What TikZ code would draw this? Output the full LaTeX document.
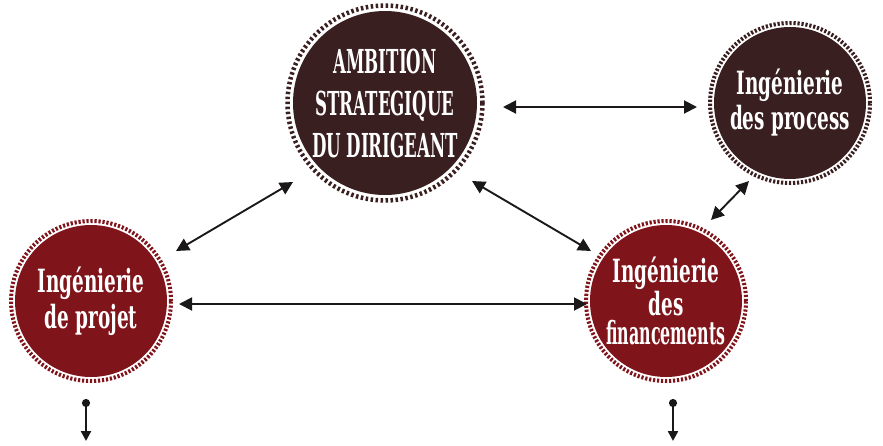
\documentclass[tikz,border=0pt]{standalone}
\usepackage{fontspec}
\usetikzlibrary{arrows.meta}
\newfontfamily\decoA[FakeStretch=0.56]{DejaVu Serif Condensed Bold}
\newfontfamily\decoB[FakeStretch=0.64]{DejaVu Serif Condensed Bold}
\newfontfamily\decoC[FakeStretch=0.55]{DejaVu Serif Condensed Bold}
\definecolor{brun}{RGB}{58,31,32}
\definecolor{bordeaux}{RGB}{127,20,27}
\definecolor{trait}{RGB}{26,24,24}
\begin{document}
\begin{tikzpicture}[x=1pt,y=-1pt,
  bulle/.style={circle,fill=#1,inner sep=0pt,text=white,align=center},
  anneau/.style={draw=#1,line width=4pt,dash pattern=on 2.2pt off 1.8pt},
  grandanneau/.style={draw=#1,line width=4.5pt,dash pattern=on 2.5pt off 2.5pt},
  bifleche/.style={draw=trait,line width=1.9pt,{Triangle[length=13pt,width=13pt]}-{Triangle[length=13pt,width=13pt]}},
  sortie/.style={draw=trait,line width=2.3pt,{Circle[length=8pt]}-{Triangle[length=10pt,width=10pt]}}]
\useasboundingbox (0,0) rectangle (883,445);
% circles
\node[bulle=brun,minimum size=184pt,font={\decoA\fontsize{33}{42}\selectfont}] (amb) at (385,103) {AMBITION\\STRATEGIQUE\\DU DIRIGEANT};
\draw[grandanneau=brun] (amb.center) circle[radius=97.5pt];
\node[bulle=brun,minimum size=152pt,font={\decoB\fontsize{32}{35}\selectfont}] (proc) at (790,103) {Ingénierie\\des process};
\draw[anneau=brun] (proc.center) circle[radius=80pt];
\node[bulle=bordeaux,minimum size=152pt,font={\decoB\fontsize{32}{36}\selectfont}] (proj) at (91,301) {Ingénierie\\de projet};
\draw[anneau=bordeaux] (proj.center) circle[radius=80pt];
\node[bulle=bordeaux,minimum size=152pt,font={\decoB\fontsize{32}{29}\selectfont}] (fin) at (666,301) {Ingénierie\\des\\{\decoC financements}};
\draw[anneau=bordeaux] (fin.center) circle[radius=80pt];
% connector end points
\coordinate (a1) at (503,107); \coordinate (b1) at (697,107);
\coordinate (a2) at (293,182); \coordinate (b2) at (176,251);
\coordinate (a3) at (472,181); \coordinate (b3) at (591,251);
\coordinate (a4) at (749,181); \coordinate (b4) at (711,220);
\coordinate (a5) at (179,304); \coordinate (b5) at (587,304);
\coordinate (p1) at (86,399); \coordinate (q1) at (86,441);
\coordinate (p2) at (673,399); \coordinate (q2) at (673,441);
\draw[bifleche] (a1) -- (b1);
\draw[bifleche] (a2) -- (b2);
\draw[bifleche] (a3) -- (b3);
\draw[bifleche] (a4) -- (b4);
\draw[bifleche] (a5) -- (b5);
\draw[sortie] (p1) -- (q1);
\draw[sortie] (p2) -- (q2);
\end{tikzpicture}
\end{document}
